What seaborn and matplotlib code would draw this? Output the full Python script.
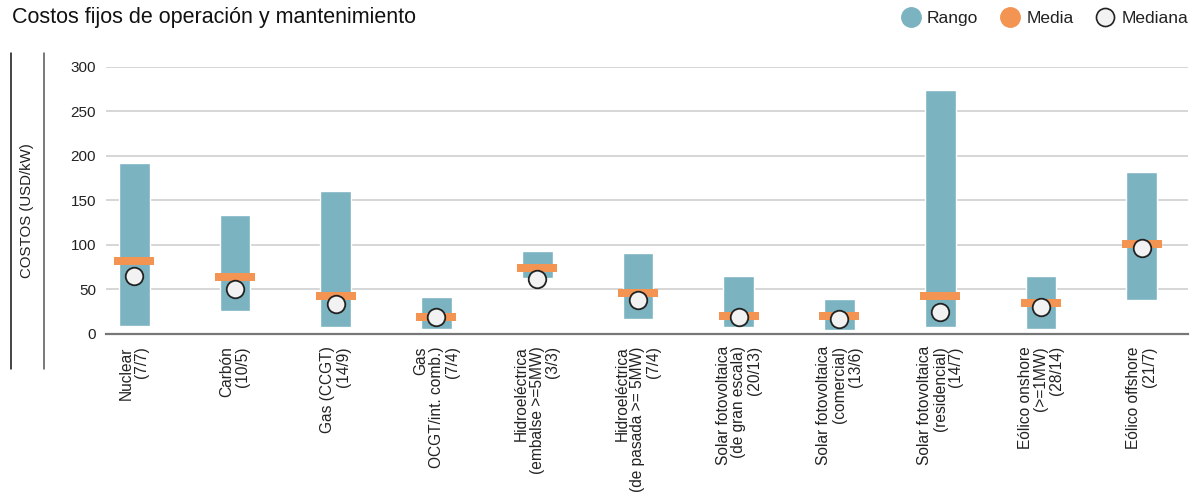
import matplotlib
matplotlib.use("Agg")
import matplotlib.pyplot as plt
from matplotlib.lines import Line2D
import seaborn as sns
import pandas as pd

sns.set_theme(style="whitegrid")
plt.rcParams['font.family'] = ['Liberation Sans', 'DejaVu Sans']

# data (USD/kW)
categorias = ['Nuclear\n(7/7)', 'Carbón\n(10/5)', 'Gas (CCGT)\n(14/9)',
              'Gas\nOCGT/int. comb.)\n(7/4)', 'Hidroeléctrica\n(embalse >=5MW)\n(3/3)',
              'Hidroeléctrica\n(de pasada >= 5MW)\n(7/4)',
              'Solar fotovoltaica\n(de gran escala)\n(20/13)',
              'Solar fotovoltaica\n(comercial)\n(13/6)',
              'Solar fotovoltaica\n(residencial)\n(14/7)',
              'Eólico onshore\n(>=1MW)\n(28/14)', 'Eólico offshore\n(21/7)']
minimo = [9, 26, 8, 5.5, 63, 17, 8, 4.5, 8, 5.5, 38]
maximo = [192, 134, 160, 41, 93, 91, 65, 39, 274, 65, 182]
media = [81.5, 63.5, 42, 18.5, 73.5, 45.5, 19.5, 19.5, 42, 34, 100.5]
mediana = [64.5, 50, 33.5, 19, 62, 38, 19, 17, 24.5, 30, 96.5]

df = pd.DataFrame({'tec': categorias, 'min': minimo, 'max': maximo,
                   'media': media, 'mediana': mediana})
df['rango'] = df['max'] - df['min']

c_rango = '#7bb3c1'
c_media = '#f39453'
c_mediana = '#f2f2f2'

fig = plt.figure(figsize=(12, 4.97), dpi=100)
ax = fig.add_axes([0.0883, 0.3286, 0.9017, 0.5366])

ax.bar(df['tec'], df['rango'], bottom=df['min'], width=0.305,
       color=c_rango, zorder=2)

rect = [(-1, -0.212), (1, -0.212), (1, 0.212), (-1, 0.212)]
sns.scatterplot(data=df, x='tec', y='media', marker=rect, s=870,
                color=c_media, linewidth=0, zorder=3, ax=ax)
sns.scatterplot(data=df, x='tec', y='mediana', marker='o', s=160,
                color=c_mediana, edgecolor='#222222', linewidth=1.3,
                zorder=4, ax=ax)

ax.set_xlim(-0.28, 10.46)
ax.set_ylim(0, 300)
ax.set_yticks([0, 50, 100, 150, 200, 250, 300])
ax.set_xlabel('')
ax.set_ylabel('')
ax.grid(axis='x', visible=False)
ax.grid(axis='y', color='#cfcfcf', linewidth=1.2)
for s in ['top', 'right', 'left']:
    ax.spines[s].set_visible(False)
ax.spines['bottom'].set_color('#777777')
ax.spines['bottom'].set_linewidth(1.6)
ax.spines['bottom'].set_zorder(5)
ax.tick_params(axis='y', length=0, pad=7, labelsize=11, labelcolor='#222222')
ax.tick_params(axis='x', length=0, pad=9)
for lab in ax.get_xticklabels():
    lab.set_rotation(90)
    lab.set_fontsize(11.2)
    lab.set_color('#222222')
    lab.set_ha('center')
    lab.set_va('top')
    lab.set_multialignment('right')
    lab.set_linespacing(1.05)

fig.text(12 / 1200, 1 - 23 / 497, 'Costos fijos de operación y mantenimiento',
         fontsize=15.5, color='#111111', va='baseline', ha='left')
fig.text(27 / 1200, 1 - 211 / 497, 'COSTOS (USD/kW)', rotation=90,
         fontsize=10.8, color='#222222', va='center', ha='center')

fig.add_artist(Line2D([11 / 1200, 11 / 1200], [1 - 53 / 497, 1 - 369 / 497],
                      color='#111111', linewidth=1.1))
fig.add_artist(Line2D([43.5 / 1200, 43.5 / 1200], [1 - 53 / 497, 1 - 369 / 497],
                      color='#555555', linewidth=1.1))

handles = [
    Line2D([], [], marker='o', linestyle='', markersize=14,
           markerfacecolor=c_rango, markeredgecolor=c_rango),
    Line2D([], [], marker='o', linestyle='', markersize=14,
           markerfacecolor=c_media, markeredgecolor=c_media),
    Line2D([], [], marker='o', linestyle='', markersize=13,
           markerfacecolor=c_mediana, markeredgecolor='#222222', markeredgewidth=1.2),
]
fig.legend(handles, ['Rango', 'Media', 'Mediana'], loc='upper right',
           bbox_to_anchor=(1.003, 1.01), ncol=3, frameon=False, fontsize=12.5,
           handlelength=1.0, handletextpad=0.45, columnspacing=1.3,
           labelcolor='#222222')

fig.savefig('out.png', dpi=100)
